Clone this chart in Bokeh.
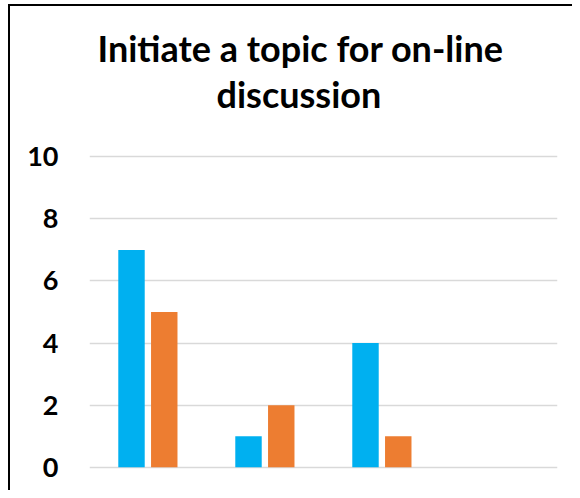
from bokeh.plotting import figure
from bokeh.models import FactorRange, Range1d, FixedTicker, Title, ColumnDataSource
from bokeh.transform import dodge
from bokeh.embed import file_html
from bokeh.resources import INLINE

categories = ["Cat 1", "Cat 2", "Cat 3", "Cat 4"]
series_a = [7, 1, 4, 0]
series_b = [5, 2, 1, 0]
y_ticks = [0, 2, 4, 6, 8, 10]
title_lines = ["Initiate a topic for on-line", "discussion"]

BLUE = "#00B0F0"
ORANGE = "#ED7D31"
FONT = "Lato"

source = ColumnDataSource(data=dict(cat=categories, a=series_a, b=series_b))

p = figure(
    x_range=FactorRange(*categories, range_padding=0),
    y_range=Range1d(-0.2, 10.2),
    width=572, height=490,
    output_backend="svg", toolbar_location=None,
    min_border_left=89, min_border_right=15,
    min_border_top=150, min_border_bottom=17,
    border_fill_color=None, background_fill_color="#FFFFFF",
)
p.styles = {
    "background": "linear-gradient(#000,#000) 8px 4px / 2px 100% no-repeat, "
                  "linear-gradient(#000,#000) 8px 4px / 100% 2px no-repeat, #FFFFFF",
}

p.vbar(x=dodge("cat", -0.141, range=p.x_range), top="a", width=0.226,
       source=source, fill_color=BLUE, line_color=None)
p.vbar(x=dodge("cat", 0.139, range=p.x_range), top="b", width=0.226,
       source=source, fill_color=ORANGE, line_color=None)

p.xaxis.visible = False
p.xgrid.visible = False
p.ygrid.grid_line_color = "#D9D9D9"
p.ygrid.grid_line_width = 1.5
p.yaxis.ticker = FixedTicker(ticks=y_ticks)
p.yaxis.axis_line_color = None
p.yaxis.major_tick_line_color = None
p.yaxis.minor_tick_line_color = None
p.yaxis.major_tick_out = 0
p.yaxis.major_label_standoff = 31
p.yaxis.major_label_text_font = FONT
p.yaxis.major_label_text_font_style = "bold"
p.yaxis.major_label_text_font_size = "27px"
p.yaxis.major_label_text_color = "#000000"
p.outline_line_color = None

p.title.text = title_lines[0]
second = Title(text=title_lines[1])
for t in (p.title, second):
    t.align = "left"
    t.text_font = FONT
    t.text_font_style = "bold"
    t.text_font_size = "36px"
    t.text_color = "#000000"
    t.standoff = 0
p.title.offset = 8
second.offset = 127

# blank spacer between the title block and the plot area
spacer = Title(text=" ", text_font=FONT, text_font_size="10px", standoff=21)
p.add_layout(spacer, "above")
p.add_layout(second, "above")

open("out.html", "w").write(file_html(p, INLINE))
